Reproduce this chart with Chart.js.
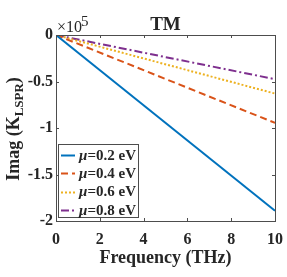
<!DOCTYPE html>
<html>
<head>
<meta charset="utf-8">
<script src="https://cdn.jsdelivr.net/npm/chart.js@4"></script>
<style>
  html, body { margin: 0; padding: 0; background: #fff; }
  #wrap { width: 287px; height: 277px; }
</style>
</head>
<body>
<div id="wrap"><canvas id="chart" width="287" height="277"></canvas></div>
<script>
// frequency in THz, Imag(K_LSPR) in units of 1e5
const frequency = [0, 10];
const mu02 = [0, -1.89];
const mu04 = [0, -0.945];
const mu06 = [0, -0.63];
const mu08 = [0, -0.475];
const seriesLabels = ["0.2 eV", "0.4 eV", "0.6 eV", "0.8 eV"];
const xTicks = [0, 2, 4, 6, 8, 10];
const yTicks = [0, -0.5, -1, -1.5, -2];

const colors = ["#0072BD", "#D95319", "#EDB120", "#7E2F8E"];
const dashes = [[], [7, 4], [2, 2], [8, 3, 2, 3]];
const seriesValues = [mu02, mu04, mu06, mu08];

const FONT = '"Liberation Serif", "Times New Roman", serif';
const TEXT = "#262626";

function toPoints(ys) {
    return frequency.map((f, i) => ({ x: f, y: ys[i] }));
}

// axes box, inward ticks, titles and legend
const decorations = {
    id: "decorations",
    afterDraw(chart) {
        const c = chart.ctx;
        const a = chart.chartArea;
        const xs = chart.scales.x, ys = chart.scales.y;
        c.save();
        c.strokeStyle = "#4d4d4d";
        c.lineWidth = 1;
        c.setLineDash([]);
        c.strokeRect(Math.round(a.left) + 0.5, Math.round(a.top) + 0.5,
            Math.round(a.right - a.left), Math.round(a.bottom - a.top));
        c.beginPath();
        xTicks.forEach(t => {
            const px = Math.round(xs.getPixelForValue(t)) + 0.5;
            c.moveTo(px, a.bottom); c.lineTo(px, a.bottom - 3);
            c.moveTo(px, a.top); c.lineTo(px, a.top + 3);
        });
        yTicks.forEach(t => {
            const py = Math.round(ys.getPixelForValue(t)) + 0.5;
            c.moveTo(a.left, py); c.lineTo(a.left + 3, py);
            c.moveTo(a.right, py); c.lineTo(a.right - 3, py);
        });
        c.stroke();

        // title
        c.fillStyle = TEXT;
        c.textAlign = "center";
        c.textBaseline = "alphabetic";
        c.font = "bold 19px " + FONT;
        c.fillText("TM", (a.left + a.right) / 2, 30);

        // x title
        c.font = "bold 18px " + FONT;
        c.fillText("Frequency (THz)", (a.left + a.right) / 2, 263);

        // exponent
        c.textAlign = "left";
        c.font = "16px " + FONT;
        c.fillText("\u00d710", 57, 32);
        c.font = "15px " + FONT;
        c.fillText("5", 81, 26);

        // y title with subscript
        c.save();
        c.translate(19, (a.top + a.bottom) / 2 + 1);
        c.rotate(-Math.PI / 2);
        const big = "bold 18px " + FONT, small = "bold 13px " + FONT;
        c.font = big; const w1 = c.measureText("Imag (K").width;
        c.font = small; const w2 = c.measureText("LSPR").width;
        c.font = big; const w3 = c.measureText(")").width;
        let x0 = -(w1 + w2 + w3) / 2;
        c.textAlign = "left";
        c.font = big; c.fillText("Imag (K", x0, 0);
        c.font = small; c.fillText("LSPR", x0 + w1, 4);
        c.font = big; c.fillText(")", x0 + w1 + w2, 0);
        c.restore();

        // legend
        const lx = 58, ly = 144, lw = 80, lh = 73;
        c.fillStyle = "#fff";
        c.fillRect(lx, ly, lw, lh);
        c.strokeStyle = "#4d4d4d";
        c.strokeRect(lx + 0.5, ly + 0.5, lw, lh);
        chart.data.datasets.forEach((ds, i) => {
            const y = 155 + i * 18.3;
            c.strokeStyle = ds.borderColor;
            c.lineWidth = 2;
            c.setLineDash(ds.borderDash || []);
            c.beginPath();
            c.moveTo(61, Math.round(y) + 0.5);
            c.lineTo(75, Math.round(y) + 0.5);
            c.stroke();
            c.setLineDash([]);
            c.fillStyle = TEXT;
            c.textBaseline = "middle";
            c.textAlign = "right";
            c.font = "bold 15px " + FONT;
            const rest = "=" + seriesLabels[i];
            const rw = c.measureText(rest).width;
            c.fillText(rest, 136, y + 1);
            c.font = "italic bold 15px " + FONT;
            c.fillText("\u03bc", 136 - rw, y + 1);
        });
        c.restore();
    }
};

new Chart(document.getElementById("chart").getContext("2d"), {
    type: "line",
    data: {
        datasets: seriesValues.map((vals, i) => ({
            label: "\u03bc=" + seriesLabels[i],
            data: toPoints(vals),
            borderColor: colors[i],
            borderDash: dashes[i],
            borderWidth: 2,
            pointRadius: 0,
            fill: false,
            tension: 0
        }))
    },
    options: {
        responsive: false,
        animation: false,
        layout: { padding: { top: 35, right: 12, left: 0, bottom: 0 } },
        plugins: {
            legend: { display: false },
            tooltip: { enabled: false }
        },
        scales: {
            x: {
                type: "linear",
                min: 0, max: 10,
                afterFit: s => { s.height = 56; s.paddingLeft = 0; s.paddingRight = 0; },
                afterBuildTicks: s => { s.ticks = xTicks.map(v => ({ value: v })); },
                grid: { display: false, drawTicks: false },
                border: { display: false },
                ticks: {
                    color: TEXT, padding: 9,
                    font: { family: FONT, size: 16, weight: "bold" },
                    maxRotation: 0,
                    callback: v => String(v)
                }
            },
            y: {
                min: -2, max: 0,
                afterFit: s => { s.width = 56; s.paddingTop = 0; s.paddingBottom = 0; },
                afterBuildTicks: s => { s.ticks = yTicks.map(v => ({ value: v })); },
                grid: { display: false, drawTicks: false },
                border: { display: false },
                ticks: {
                    color: TEXT, padding: 3,
                    font: { family: FONT, size: 16, weight: "bold" },
                    callback: v => String(v)
                }
            }
        }
    },
    plugins: [decorations]
});
</script>
</body>
</html>
